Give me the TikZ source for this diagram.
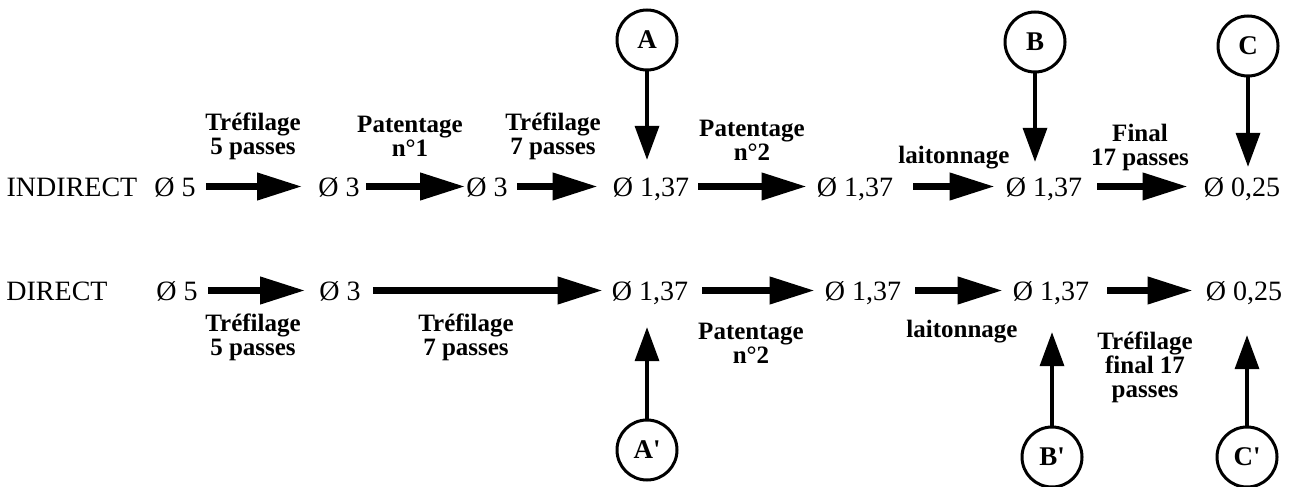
\documentclass[tikz,border=0pt]{standalone}
\usepackage{fontspec}
\setmainfont{Liberation Serif}
\usetikzlibrary{arrows.meta}
\begin{document}
\begin{tikzpicture}[x=1pt,y=-1pt,
  val/.style={inner sep=0pt, text height=19pt, text depth=0pt, anchor=base, font=\fontsize{28}{30}\selectfont},
  lab/.style={inner sep=0pt, align=center, font=\bfseries\fontsize{25}{24}\selectfont},
  circ/.style={circle, draw, line width=3pt, minimum size=60pt, inner sep=0pt, font=\bfseries\fontsize{27}{27}\selectfont},
  harrow/.style={line width=7pt, -{Triangle[length=45pt,width=26pt]}},
  varrow/.style={line width=3.5pt, -{Triangle[length=34pt,width=24pt]}}]
\useasboundingbox (0,0) rectangle (1296,487);

% top row
\node[val] (t0) at (72,196) {INDIRECT};
\node[val] (t1) at (175,196) {Ø 5};
\node[val] (t2) at (339,196) {Ø 3};
\node[val] (t3) at (487,196) {Ø 3};
\node[val] (t4) at (651,196) {Ø 1,37};
\node[val] (t5) at (855,196) {Ø 1,37};
\node[val] (t6) at (1044,196) {Ø 1,37};
\node[val] (t7) at (1242,196) {Ø 0,25};

\draw[harrow, shorten <=10pt, shorten >=16pt] (t1) -- (t2);
\draw[harrow, shorten <=6pt, shorten >=1pt] (t2) -- (t3);
\draw[harrow, shorten <=9pt, shorten >=15pt] (t3) -- (t4);
\draw[harrow, shorten <=9pt, shorten >=10pt] (t4) -- (t5);
\draw[harrow, shorten <=20pt, shorten >=11pt] (t5) -- (t6);
\draw[harrow, shorten <=15pt, shorten >=16pt] (t6) -- (t7);

\node[lab] (l1) at (253,136) {Tréfilage\\5 passes};
\node[lab] (l2) at (410,136) {Patentage\\n°1};
\node[lab] (l3) at (553,136) {Tréfilage\\7 passes};
\node[lab] (l4) at (752,140) {Patentage\\n°2};
\node[lab] (l5) at (954,158) {laitonnage};
\node[lab] (l6) at (1140,147) {Final\\17 passes};

\node[circ] (A) at (647,40) {A};
\node[circ] (B) at (1035,42) {B};
\node[circ] (C) at (1248,46) {C};
\draw[varrow, shorten >=17pt] (A) -- (A |- t4.north);
\draw[varrow, shorten >=15pt] (B) -- (B |- t6.north);
\draw[varrow, shorten >=10pt] (C) -- (C |- t7.north);

% bottom row
\node[val] (b0) at (57,300) {DIRECT};
\node[val] (b1) at (177,300) {Ø 5};
\node[val] (b2) at (340,300) {Ø 3};
\node[val] (b3) at (650,300) {Ø 1,37};
\node[val] (b4) at (863,300) {Ø 1,37};
\node[val] (b5) at (1051,300) {Ø 1,37};
\node[val] (b6) at (1244,300) {Ø 0,25};

\draw[harrow, shorten <=10pt, shorten >=14pt] (b1) -- (b2);
\draw[harrow, shorten <=12pt, shorten >=9pt] (b2) -- (b3);
\draw[harrow, shorten <=14pt, shorten >=10pt] (b3) -- (b4);
\draw[harrow, shorten <=14pt, shorten >=10pt] (b4) -- (b5);
\draw[harrow, shorten <=18pt, shorten >=13pt] (b5) -- (b6);

\node[lab] (m1) at (253,337) {Tréfilage\\5 passes};
\node[lab] (m2) at (466,337) {Tréfilage\\7 passes};
\node[lab] (m3) at (751,343) {Patentage\\n°2};
\node[lab] (m4) at (962,332) {laitonnage};
\node[lab] (m5) at (1145,367) {Tréfilage\\final 17\\passes};

\node[circ] (A2) at (647,450) {A\textquotesingle};
\node[circ] (B2) at (1052,457) {B\textquotesingle};
\node[circ] (C2) at (1247,457) {C\textquotesingle};
\draw[varrow, shorten >=27pt] (A2) -- (A2 |- b3.south);
\draw[varrow, shorten >=32pt] (B2) -- (B2 |- b5.south);
\draw[varrow, shorten >=35pt] (C2) -- (C2 |- b6.south);
\end{tikzpicture}
\end{document}
